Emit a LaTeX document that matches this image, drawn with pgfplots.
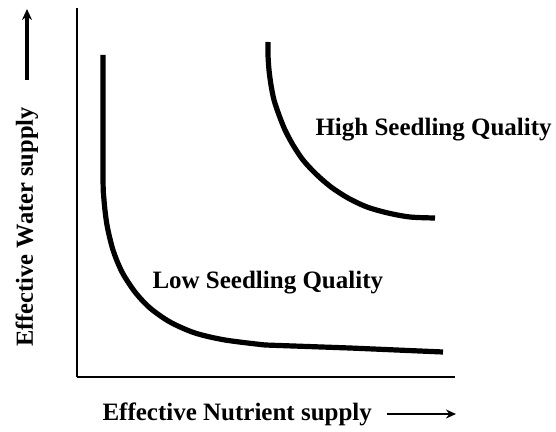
\documentclass[border=0pt]{standalone}
\usepackage{pgfplots}
\pgfplotsset{compat=1.18}
\usepackage{fontspec}
\setmainfont{Liberation Serif}
\usetikzlibrary{arrows.meta}
\begin{document}
\begin{tikzpicture}
\begin{axis}[
  scale only axis, width=378pt, height=369pt,
  xmin=77, xmax=455, ymin=54, ymax=423,
  axis x line=bottom, axis y line=left,
  axis line style={-, line width=2.8pt},
  xtick=\empty, ytick=\empty,
  clip=false,
]
% Low seedling quality (x in px, y = 431 - px)
\addplot[black, line width=5.2pt, smooth] coordinates {
(103,376) (103,256) (104,231) (107,206) (113,181) (122,159) (135,139) (150,123)
(170,109) (195,98) (225,91) (265,86)};
\addplot[black, line width=5.2pt] coordinates {(265,86) (350,83) (443,79)};
% High seedling quality
\addplot[black, line width=5.2pt, smooth] coordinates {
(268,389) (268,376) (269,361) (271,346) (274,331) (279,316) (285,301) (293,286)
(303,271) (316,257) (331,244) (348,233) (367,224) (388,218) (410,214) (435,213)};
\node[font=\bfseries\fontsize{25}{29}\selectfont, anchor=west] at (axis cs:312,301) {High Seedling Quality};
\node[font=\bfseries\fontsize{25}{29}\selectfont, anchor=west] at (axis cs:149,148) {Low Seedling Quality};
\node[font=\bfseries\fontsize{25}{29}\selectfont, anchor=west] at (axis cs:99,17) {Effective Nutrient supply};
\draw[line width=2.8pt, -{Stealth[length=10pt,width=9pt]}] (axis cs:387,17) -- (axis cs:456,17);
\node[font=\bfseries\fontsize{24.5}{29}\selectfont, rotate=90, anchor=center] at (axis cs:27,204) {Effective Water supply};
\draw[line width=3.4pt, -{Stealth[length=11pt,width=10pt]}] (axis cs:27,351) -- (axis cs:27,422);
\coordinate (bl) at (axis cs:0,0);
\coordinate (tr) at (axis cs:556,431);
\end{axis}
\path (bl) rectangle (tr);
\end{tikzpicture}
\end{document}
